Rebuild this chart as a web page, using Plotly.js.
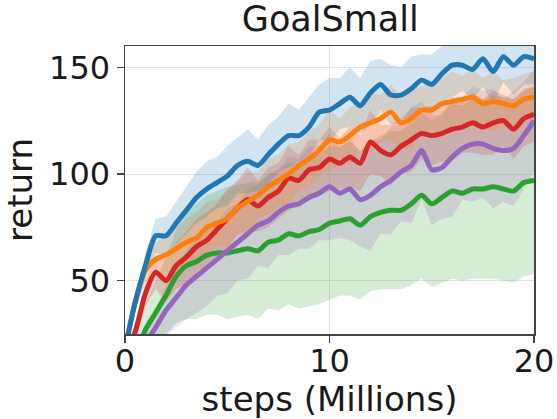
<!DOCTYPE html>
<html>
<head>
<meta charset="utf-8">
<script src="https://cdn.plot.ly/plotly-3.0.1.min.js"></script>
<style>html,body{margin:0;padding:0;background:#fff;}#chart{width:557px;height:419px;}</style>
</head>
<body>
<div id="chart"></div>
<script>
// steps (Millions)
const steps = [0,0.5,1,1.5,2,2.5,3,3.5,4,4.5,5,5.5,6,6.5,7,7.5,8,8.5,9,9.5,10,10.5,11,11.5,12,12.5,13,13.5,14,14.5,15,15.5,16,16.5,17,17.5,18,18.5,19,19.5,20];

const blueMean   = [18,40,57,71,71,77,83,89,93,96,99,104,106,104,109,114,118,118,122,129,130,133,136,132,138,142,137,137,140,144,142,147,151,151,149,154,148,155,151,155,154];
const orangeMean = [18,40,55,60,62,65,68,70,75,77,79,84,87,90,94,97,100,104,107,111,116,115,118,122,124,126,129,124,126,130,130,133,134,135,136,133,134,133,132,135,136];
const redMean    = [15,26,44,54,50,57,61,66,69,74,79,84,88,85,89,92,98,97,102,103,107,105,108,105,115,111,109,113,116,119,118,119,121,122,124,122,124,125,121,126,128];
const purpleMean = [10,14,21,28,36,42,48,52,56,60,64,68,72,76,78,82,85,86,89,91,94,91,93,88,90,94,97,101,104,111,102,103,108,112,114,114,112,111,112,118,125];
const greenMean  = [8,15,27,35,43,52,57,59,62,63,63,64,65,64,68,69,72,71,73,74,77,78,79,76,80,82,83,83,86,90,86,89,92,91,93,93,94,93,92,96,97];

const blueStd   = [2,4,6,8,9,10,11,12,13,12,14,13,15,12,14,13,15,12,14,13,15,12,14,13,15,12,14,13,15,12,14,13,15,12,14,13,15,12,14,13,12];
const orangeStd = [2,4,6,8,9,10,11,12,12,11,13,12,14,11,13,12,14,11,13,12,14,11,13,12,14,11,13,12,14,11,13,12,14,11,13,12,14,11,13,12,12];
const redStd    = [2,4,6,8,10,11,12,13,13,12,14,13,15,12,14,13,15,12,14,13,15,12,14,13,15,12,14,13,15,12,14,13,15,12,14,13,15,12,14,13,13];
const purpleStd = [2,4,6,9,12,14,16,17,18,17,20,18,21,19,22,20,23,21,24,22,25,21,24,22,26,22,25,23,27,23,26,24,28,24,27,25,28,24,27,25,24];
const greenStd  = [8,10,12,15,18,22,25,27,28,29,31,31,31,32,31,33,33,34,35,35,36,35,36,35,35,36,37,37,38,39,39,40,41,41,42,42,43,43,43,44,44];

const seriesList = [
  {mean: greenMean,  std: greenStd,  color: '#2ca02c', fill: 'rgba(44,160,44,0.2)'},
  {mean: purpleMean, std: purpleStd, color: '#9467bd', fill: 'rgba(148,103,189,0.2)'},
  {mean: redMean,    std: redStd,    color: '#d62728', fill: 'rgba(214,39,40,0.2)'},
  {mean: orangeMean, std: orangeStd, color: '#ff7f0e', fill: 'rgba(255,127,14,0.2)'},
  {mean: blueMean,   std: blueStd,   color: '#1f77b4', fill: 'rgba(31,119,180,0.2)'}
];

const traces = [];
seriesList.forEach(s => {
  const upper = s.mean.map((m, i) => m + s.std[i]);
  const lower = s.mean.map((m, i) => m - s.std[i]);
  traces.push({
    x: steps.concat(steps.slice().reverse()),
    y: upper.concat(lower.slice().reverse()),
    type: 'scatter', mode: 'lines', fill: 'toself',
    fillcolor: s.fill, line: {width: 0, color: 'rgba(0,0,0,0)'},
    hoverinfo: 'skip', showlegend: false
  });
});
seriesList.forEach(s => {
  traces.push({
    x: steps, y: s.mean, type: 'scatter', mode: 'lines',
    line: {color: s.color, width: 5, shape: 'spline', smoothing: 0.7}, showlegend: false
  });
});

const font = "'DejaVu Sans', sans-serif";
const layout = {
  width: 557, height: 419,
  margin: {l: 125, r: 23, t: 46, b: 85},
  paper_bgcolor: '#fff', plot_bgcolor: '#fff',
  showlegend: false,
  title: {text: 'GoalSmall', font: {family: font, size: 35, color: '#1a1a1a'}, x: 0.593, xanchor: 'center', y: 0.985, yanchor: 'top'},
  xaxis: {
    range: [0, 20], tickvals: [0, 10, 20], ticktext: ['0', '10', '20'],
    showgrid: true, gridcolor: '#e3e3e3', gridwidth: 1,
    showline: true, linecolor: '#444', linewidth: 1.5, mirror: true,
    ticks: 'outside', ticklen: 7, tickcolor: '#444', tickwidth: 1.5,
    ticklabelstandoff: -9,
    zeroline: false,
    tickfont: {family: font, size: 32, color: '#1a1a1a'},
    title: {text: 'steps (Millions)', font: {family: font, size: 34, color: '#1a1a1a'}, standoff: 4}
  },
  yaxis: {
    range: [25, 160], tickvals: [50, 100, 150], ticktext: ['50', '100', '150'],
    showgrid: true, gridcolor: '#e3e3e3', gridwidth: 1,
    showline: true, linecolor: '#444', linewidth: 1.5, mirror: true,
    ticks: 'outside', ticklen: 7, tickcolor: '#444', tickwidth: 1.5,
    zeroline: false,
    tickfont: {family: font, size: 32, color: '#1a1a1a'},
    title: {text: 'return', font: {family: font, size: 34, color: '#1a1a1a'}, standoff: 6}
  }
};

Plotly.newPlot('chart', traces, layout, {displayModeBar: false, staticPlot: true});
</script>
</body>
</html>
